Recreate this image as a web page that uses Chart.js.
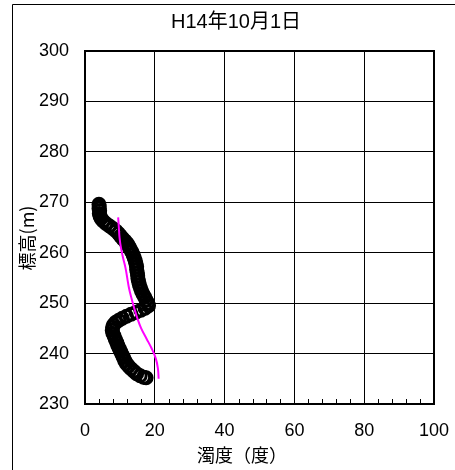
<!DOCTYPE html>
<html>
<head>
<meta charset="utf-8">
<script src="https://cdn.jsdelivr.net/npm/chart.js@4"></script>
<style>
  body { margin: 0; background: #fff; }
  canvas { display: block; }
</style>
</head>
<body>
<canvas id="turbidityChart" width="455" height="470"></canvas>
<script>
// 観測値 (標高 m / 濁度 度)
var obsElevation = [
  269.6, 269.2, 268.8, 268.3, 267.8, 267.3, 266.8, 266.3, 265.8, 265.3,
  264.8, 264.3, 263.8, 263.3, 262.8, 262.3, 261.8, 261.2, 260.7, 260.2,
  259.6, 259.0, 258.4, 257.8, 257.2, 256.6, 256.0, 255.4, 254.8, 254.2,
  253.6, 253.0, 252.4, 251.8, 251.2, 250.6, 250.0, 249.5, 249.0, 248.6,
  248.2, 247.8, 247.4, 247.0, 246.6, 246.2, 245.7, 245.2, 244.6, 244.0,
  243.4, 242.8, 242.2, 241.6, 241.0, 240.4, 239.8, 239.2, 238.6, 238.0,
  237.5, 237.0, 236.5, 236.0, 235.6, 235.3, 235.2
]
var obsTurbidity = [
  4.0, 4.1, 4.0, 4.2, 4.1, 4.3, 4.6, 5.2, 6.0, 7.0,
  8.0, 8.9, 9.6, 10.2, 10.8, 11.5, 12.1, 12.6, 13.0, 13.4,
  13.8, 14.1, 14.4, 14.6, 14.8, 14.8, 15.0, 15.1, 15.2, 15.4,
  15.6, 15.9, 16.2, 16.6, 17.1, 17.5, 18.0, 18.2, 17.2, 16.0,
  14.6, 13.2, 11.9, 10.7, 9.7, 8.8, 8.2, 7.9, 7.8, 8.0,
  8.4, 8.7, 9.1, 9.4, 9.8, 10.2, 10.6, 11.0, 11.4, 11.9,
  12.5, 13.2, 14.0, 14.8, 15.8, 16.8, 17.5
]

// 計算値
var calcElevation = [267, 265, 263, 261, 259, 257, 255, 253, 251, 249, 247, 245, 243, 241, 239, 237, 235]
var calcTurbidity = [9.5, 9.7, 9.9, 10.3, 10.9, 11.6, 12.1, 12.6, 13.3, 14.1, 15.0, 16.1, 17.6, 19.1, 20.3, 20.9, 21.1]

var xTicks = [0, 20, 40, 60, 80, 100]
var yTicks = [230, 240, 250, 260, 270, 280, 290, 300]

var chartTitle = 'H14年10月1日'
var xTitle = '濁度（度）'
var yTitle = '標高(m)'

function toPoints(xs, ys) {
  return xs.map(function (v, i) { return { x: v, y: ys[i] } })
}

var latin = "'Liberation Sans', Arial, 'Noto Sans CJK JP', sans-serif"
var cjk = "'Noto Sans CJK JP', sans-serif"

// 外枠・プロット枠・補助目盛・軸タイトル
var framePlugin = {
  id: 'frame',
  beforeDraw: function (chart) {
    var ctx = chart.ctx
    ctx.save()
    ctx.fillStyle = '#fff'
    ctx.fillRect(0, 0, chart.width, chart.height)
    ctx.strokeStyle = '#000'
    ctx.lineWidth = 1
    ctx.beginPath()
    ctx.moveTo(12.5, chart.height)
    ctx.lineTo(12.5, 4.5)
    ctx.lineTo(chart.width, 4.5)
    ctx.stroke()
    ctx.restore()
  },
  afterDraw: function (chart) {
    var ctx = chart.ctx
    var a = chart.chartArea
    var xs = chart.scales.x
    ctx.save()
    ctx.strokeStyle = '#000'
    ctx.lineWidth = 1
    ctx.beginPath()
    for (var v = 4; v < 100; v += 4) {
      if (v % 20 === 0) continue
      var px = Math.round(xs.getPixelForValue(v)) + 0.5
      ctx.moveTo(px, a.bottom)
      ctx.lineTo(px, a.bottom - 5)
    }
    ctx.stroke()
    ctx.lineWidth = 2
    ctx.strokeRect(a.left, a.top, a.right - a.left, a.bottom - a.top)

    ctx.fillStyle = '#000'
    ctx.textAlign = 'center'
    ctx.textBaseline = 'middle'
    ctx.font = '18px ' + cjk
    ctx.fillText(xTitle, 242, 455)

    ctx.translate(27, 238)
    ctx.rotate(-Math.PI / 2)
    ctx.fillText(yTitle, 0, 0)
    ctx.restore()
  }
}

new Chart(document.getElementById('turbidityChart').getContext('2d'), {
  type: 'scatter',
  data: {
    datasets: [
      {
        label: '計算値',
        data: toPoints(calcTurbidity, calcElevation),
        showLine: true,
        borderColor: '#ff00ff',
        borderWidth: 2,
        pointRadius: 0,
        tension: 0.4,
        fill: false
      },
      {
        label: '観測値',
        data: toPoints(obsTurbidity, obsElevation),
        pointStyle: 'circle',
        pointRadius: 6,
        borderWidth: 3,
        borderColor: '#000',
        backgroundColor: 'rgba(0,0,0,0)'
      }
    ]
  },
  options: {
    responsive: false,
    animation: false,
    layout: { padding: { left: 38, right: 21, top: 0, bottom: 0 } },
    plugins: {
      legend: { display: false },
      tooltip: { enabled: false },
      title: {
        display: true,
        text: chartTitle,
        color: '#000',
        font: { family: latin, size: 20, weight: 'normal' },
        padding: { top: 10, bottom: 17 }
      }
    },
    scales: {
      x: {
        type: 'linear',
        min: 0,
        max: 100,
        afterFit: function (s) {
          s.height = 66
          s.paddingLeft = 0
          s.paddingRight = 0
        },
        afterBuildTicks: function (s) { s.ticks = xTicks.map(function (v) { return { value: v } }) },
        grid: { color: '#000', lineWidth: 1, drawTicks: false },
        border: { display: false },
        ticks: { color: '#000', padding: 16, font: { family: latin, size: 18 } }
      },
      y: {
        type: 'linear',
        min: 230,
        max: 300,
        afterFit: function (s) { s.width = 47 },
        afterBuildTicks: function (s) { s.ticks = yTicks.map(function (v) { return { value: v } }) },
        grid: { color: '#000', lineWidth: 1, drawTicks: false },
        border: { display: false },
        ticks: { color: '#000', padding: 16, font: { family: latin, size: 18 } }
      }
    }
  },
  plugins: [framePlugin]
})
</script>
</body>
</html>
